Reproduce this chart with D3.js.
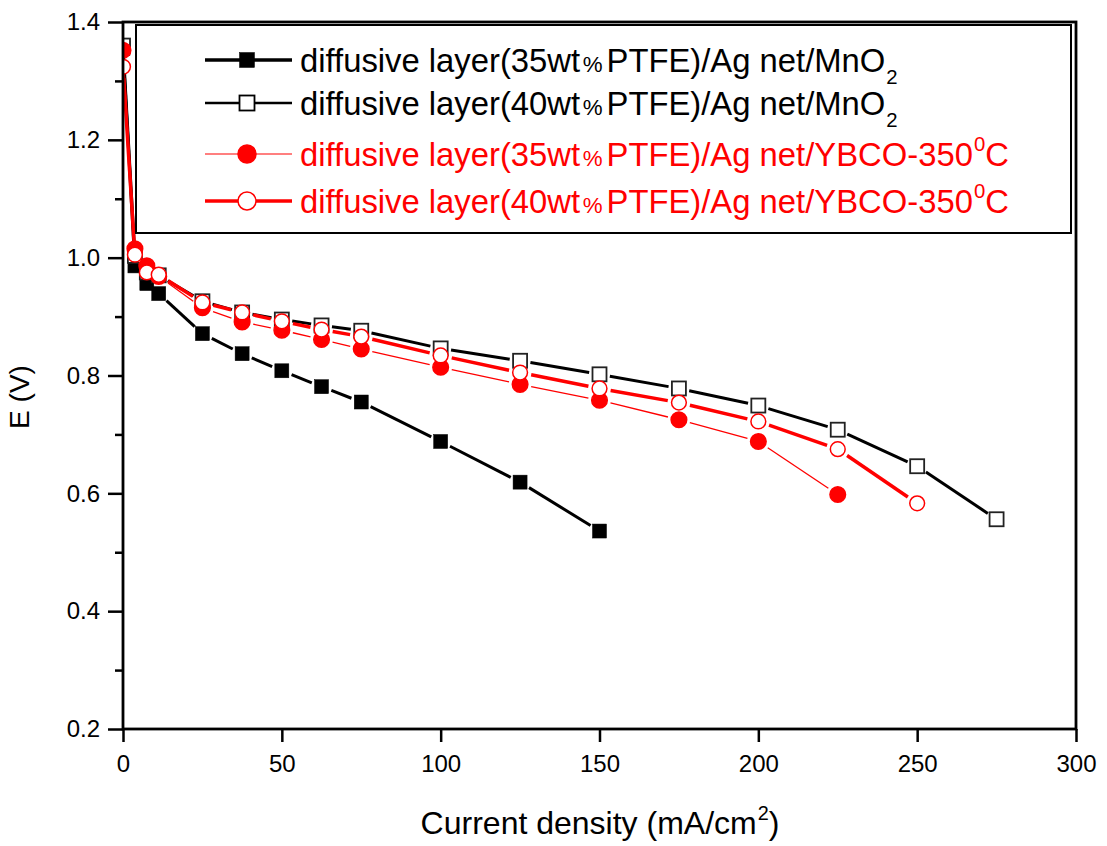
<!DOCTYPE html>
<html><head><meta charset="utf-8">
<script src="https://cdn.jsdelivr.net/npm/d3@7/dist/d3.min.js"></script>
<style>
body{margin:0;background:#fff}
svg{display:block}
text{font-family:"Liberation Sans",Arial,Helvetica,sans-serif}
</style>
</head><body>
<svg id="chart" width="1107" height="846"></svg>
<script>
// ---- data ----
const currentDensity = [0, 3.75, 7.5, 11.25, 25, 37.5, 50, 62.5, 75, 100, 125, 150, 175, 200, 225, 250, 275];
const mno2PTFE35 = [1.355, 0.986, 0.956, 0.939, 0.871, 0.837, 0.808, 0.781, 0.755, 0.688, 0.619, 0.536];
const mno2PTFE40 = [1.360, 1.003, 0.975, 0.970, 0.926, 0.907, 0.895, 0.885, 0.876, 0.846, 0.825, 0.802, 0.778, 0.749, 0.708, 0.646, 0.556];
const ybcoPTFE35 = [1.352, 1.015, 0.986, 0.968, 0.915, 0.891, 0.877, 0.861, 0.845, 0.814, 0.785, 0.758, 0.725, 0.688, 0.598];
const ybcoPTFE40 = [1.324, 1.005, 0.975, 0.971, 0.924, 0.907, 0.892, 0.878, 0.866, 0.834, 0.805, 0.778, 0.754, 0.722, 0.675, 0.583];
const seriesLabels = [
  "diffusive layer(35wt%PTFE)/Ag net/MnO_2",
  "diffusive layer(40wt%PTFE)/Ag net/MnO_2",
  "diffusive layer(35wt%PTFE)/Ag net/YBCO-350^0C",
  "diffusive layer(40wt%PTFE)/Ag net/YBCO-350^0C"
];
const xTickValues = [0, 50, 100, 150, 200, 250, 300];
const yTickValues = [0.2, 0.4, 0.6, 0.8, 1.0, 1.2, 1.4];
const yMinorValues = [0.3, 0.5, 0.7, 0.9, 1.1, 1.3];
const xTitle = "Current density (mA/cm^2)";
const yTitle = "E (V)";

// ---- styles ----
const styles = [
  {values: mno2PTFE35, color: "#000", shape: "square", fill: "#000", lw: 3},
  {values: mno2PTFE40, color: "#000", shape: "square", fill: "#fff", lw: 3},
  {values: ybcoPTFE35, color: "#ff0000", shape: "circle", fill: "#ff0000", lw: 1.3},
  {values: ybcoPTFE40, color: "#ff0000", shape: "circle", fill: "#fff", lw: 3.5}
];

const svg = d3.select("#chart");
const L = 123, R = 1076, T = 22, B = 729;
const x = d3.scaleLinear().domain([0, 300]).range([L, R]);
const y = d3.scaleLinear().domain([0.2, 1.4]).range([B, T]);

svg.append("defs").append("clipPath").attr("id", "plotclip")
  .append("rect").attr("x", L).attr("y", T).attr("width", R - L).attr("height", B - T);

// rich text helper: "_" subscript, "^" superscript (single char), "%" smaller
function richText(sel, str, size) {
  const chunks = [];
  let buf = "", i = 0;
  let pend = {dy: 0, dx: 0};
  const flush = () => {
    if (buf) { chunks.push({text: buf, size: size, dy: pend.dy, dx: pend.dx}); buf = ""; pend = {dy: 0, dx: 0}; }
  };
  while (i < str.length) {
    const ch = str[i];
    if (ch === "_" || ch === "^") {
      flush();
      const off = ch === "_" ? size * 0.38 : -size * 0.43;
      chunks.push({text: str[i + 1], size: size * 0.62, dy: off + pend.dy, dx: 1});
      pend = {dy: -off, dx: 0};
      i += 2;
    } else if (ch === "%") {
      flush();
      chunks.push({text: "%", size: size * 0.68, dy: pend.dy, dx: size * 0.08});
      pend = {dy: 0, dx: size * 0.12};
      i += 1;
    } else { buf += ch; i += 1; }
  }
  flush();
  chunks.forEach(c => {
    const t = sel.append("tspan").attr("font-size", c.size).text(c.text);
    if (c.dy) t.attr("dy", c.dy);
    if (c.dx) t.attr("dx", c.dx);
  });
}

// ---- axes ----
const tickFont = 24;
const yAxis = svg.append("g").attr("transform", `translate(${L},0)`)
  .call(d3.axisLeft(y).tickValues(yTickValues).tickSize(15).tickPadding(8).tickFormat(d3.format(".1f")));
const yMinor = svg.append("g").attr("transform", `translate(${L},0)`)
  .call(d3.axisLeft(y).tickValues(yMinorValues).tickSize(8).tickFormat(""));
yMinor.selectAll("text").remove();
const xAxis = svg.append("g").attr("transform", `translate(0,${B})`)
  .call(d3.axisBottom(x).tickValues(xTickValues).tickSize(13).tickPadding(13).tickFormat(d3.format("d")));
[yAxis, yMinor, xAxis].forEach(g => {
  g.select(".domain").remove();
  g.selectAll("line").attr("stroke", "#000").attr("stroke-width", 2.5);
  g.selectAll("text").attr("font-size", tickFont).attr("fill", "#000")
    .attr("font-family", '"Liberation Sans",Arial,sans-serif');
});

// ---- series ----
const plot = svg.append("g").attr("clip-path", "url(#plotclip)");
const SQ = 14, CR = 7.8;
styles.forEach(s => {
  const pts = s.values.map((v, i) => [x(currentDensity[i]), y(v)]);
  const gap = (s.shape === "square" ? SQ / 2 : CR) + 3.5;
  const g = plot.append("g");
  for (let i = 0; i < pts.length - 1; i++) {
    const [x0, y0] = pts[i], [x1, y1] = pts[i + 1];
    const dx = x1 - x0, dy = y1 - y0, len = Math.hypot(dx, dy);
    if (len <= 2 * gap) continue;
    const ux = dx / len, uy = dy / len;
    g.append("line")
      .attr("x1", x0 + ux * gap).attr("y1", y0 + uy * gap)
      .attr("x2", x1 - ux * gap).attr("y2", y1 - uy * gap)
      .attr("stroke", s.color).attr("stroke-width", s.lw);
  }
  pts.forEach(([px, py]) => {
    if (s.shape === "square") {
      g.append("rect").attr("x", px - SQ / 2).attr("y", py - SQ / 2).attr("width", SQ).attr("height", SQ)
        .attr("fill", s.fill).attr("stroke", s.fill === "#fff" ? "#222" : "#000").attr("stroke-width", s.fill === "#fff" ? 1.8 : 0.5);
    } else {
      g.append("circle").attr("cx", px).attr("cy", py).attr("r", s.fill === "#fff" ? CR - 0.4 : CR)
        .attr("fill", s.fill).attr("stroke", s.color).attr("stroke-width", 1.5);
    }
  });
});

// ---- frame ----
svg.append("rect").attr("x", L).attr("y", T).attr("width", R - L).attr("height", B - T)
  .attr("fill", "none").attr("stroke", "#000").attr("stroke-width", 2.8);

// ---- legend ----
const lg = svg.append("g");
lg.append("rect").attr("x", 136).attr("y", 25).attr("width", 935).attr("height", 208)
  .attr("fill", "#fff").attr("stroke", "#000").attr("stroke-width", 2);
const rowsY = [60, 103, 154, 201];
const legendLW = [3.3, 2.7, 1.2, 3.5];
const legFont = 32.8;
styles.forEach((s, i) => {
  const cy = rowsY[i];
  lg.append("line").attr("x1", 205).attr("x2", 292).attr("y1", cy).attr("y2", cy)
    .attr("stroke", s.color).attr("stroke-width", legendLW[i]);
  if (s.shape === "square") {
    lg.append("rect").attr("x", 247 - 7.5).attr("y", cy - 7.5).attr("width", 15).attr("height", 15)
      .attr("fill", s.fill).attr("stroke", "#000").attr("stroke-width", s.fill === "#fff" ? 1.8 : 0.5);
  } else {
    lg.append("circle").attr("cx", 247).attr("cy", cy).attr("r", 9)
      .attr("fill", s.fill).attr("stroke", s.color).attr("stroke-width", 1.5);
  }
  const t = lg.append("text").attr("x", 300).attr("y", cy + 11.5)
    .attr("font-size", legFont).attr("fill", s.color);
  richText(t, seriesLabels[i], legFont);
});

// ---- titles ----
const xt = svg.append("text").attr("x", 600).attr("y", 834).attr("text-anchor", "middle")
  .attr("font-size", 32).attr("fill", "#000");
richText(xt, xTitle, 32);
svg.append("text").attr("transform", "translate(29,397) rotate(-90)").attr("text-anchor", "middle")
  .attr("font-size", 28).attr("fill", "#000").text(yTitle);
</script>
</body></html>
